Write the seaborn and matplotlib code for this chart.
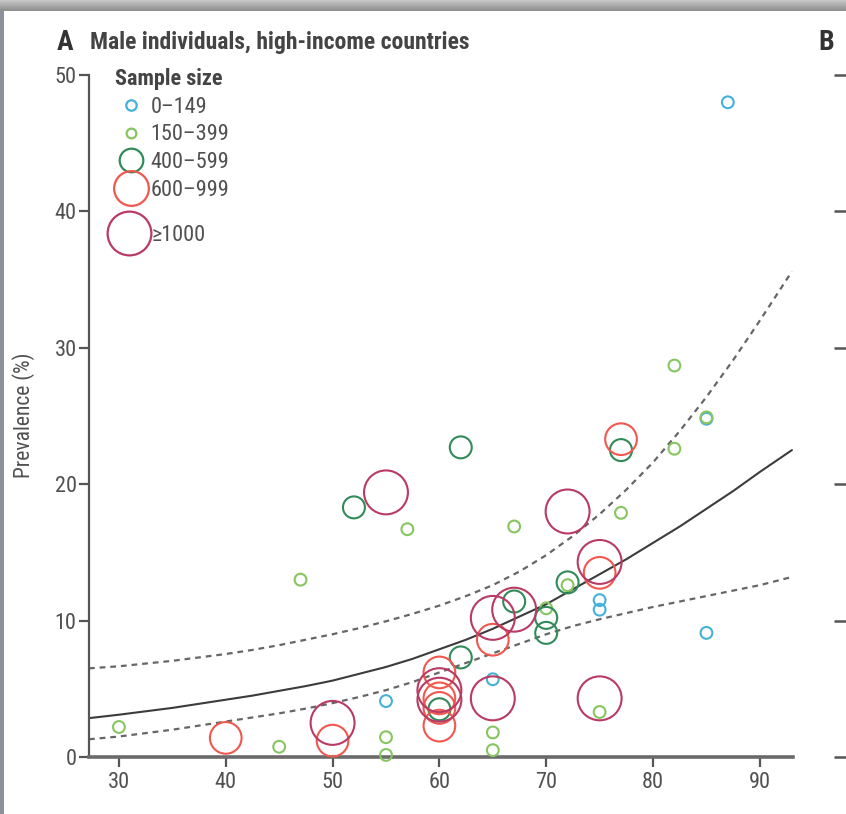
import numpy as np
import pandas as pd
import matplotlib
matplotlib.use("Agg")
import matplotlib.pyplot as plt
import seaborn as sns
from matplotlib import font_manager
from matplotlib.lines import Line2D

# ---------------- data ----------------
groups = ["0–149", "150–399", "400–599", "600–999", "≥1000"]

blue_x = [87, 85, 75, 75, 85, 65, 55]
blue_y = [48.0, 24.8, 11.5, 10.8, 9.1, 5.7, 4.1]

lgreen_x = [30, 47, 57, 67, 45, 55, 55, 65, 65, 82, 82, 85, 77, 75, 70, 72]
lgreen_y = [2.2, 13.0, 16.7, 16.9, 0.75, 1.45, 0.15, 1.8, 0.5, 28.7, 22.6, 24.9, 17.9, 3.3, 10.9, 12.6]

dgreen_x = [52, 62, 77, 72, 70, 70, 62, 60, 67]
dgreen_y = [18.3, 22.7, 22.5, 12.8, 10.2, 9.1, 7.3, 3.5, 11.4]

red_x = [40, 50, 60, 60, 60, 60, 65, 75, 77]
red_y = [1.4, 1.2, 6.2, 4.3, 3.6, 2.3, 8.6, 13.5, 23.3]

crim_x = [55, 50, 60, 60, 65, 65, 67, 72, 75, 75]
crim_y = [19.4, 2.5, 4.9, 4.2, 4.3, 10.2, 10.8, 18.0, 14.3, 4.3]

# fitted curve and 95% band
curve_x = [27.2, 30, 32.5, 35, 37.5, 40, 42.5, 45, 47.5, 50, 52.5, 55, 57.5, 60,
           62.5, 65, 67.5, 70, 72.5, 75, 77.5, 80, 82.5, 85, 87.5, 90, 93]
fit_y = [2.85, 3.1, 3.35, 3.6, 3.9, 4.2, 4.5, 4.85, 5.2, 5.6, 6.1, 6.6, 7.2, 7.9,
         8.6, 9.4, 10.3, 11.2, 12.3, 13.4, 14.5, 15.7, 16.9, 18.2, 19.5, 20.9, 22.5]
upper_y = [6.5, 6.65, 6.85, 7.05, 7.3, 7.55, 7.85, 8.2, 8.6, 9.0, 9.45, 9.95, 10.5, 11.1,
           11.8, 12.6, 13.6, 14.8, 16.2, 17.8, 19.6, 21.6, 23.9, 26.4, 29.1, 32.0, 35.6]
lower_y = [1.3, 1.5, 1.75, 2.0, 2.3, 2.6, 2.9, 3.2, 3.55, 3.95, 4.4, 4.9, 5.5, 6.2,
           6.9, 7.6, 8.3, 9.0, 9.6, 10.1, 10.55, 11.0, 11.4, 11.8, 12.2, 12.6, 13.2]

x_ticks = [30, 40, 50, 60, 70, 80, 90]
y_ticks = [0, 10, 20, 30, 40, 50]

# ---------------- styling ----------------
colors = {"0–149": "#45b1d8", "150–399": "#86c560", "400–599": "#318a58",
          "600–999": "#f2574f", "≥1000": "#b93a62"}
sizes = {"0–149": 72, "150–399": 72, "400–599": 250, "600–999": 520, "≥1000": 1000}
leg_ms = {"0–149": 7.5, "150–399": 7.0, "400–599": 17, "600–999": 25, "≥1000": 31.5}


def pick_font(cands):
    for c in cands:
        try:
            font_manager.findfont(font_manager.FontProperties(family=c), fallback_to_default=False)
            return c
        except Exception:
            pass
    return "DejaVu Sans"


sns.set_theme(style="white")
main_font = pick_font(["Liberation Sans Narrow", "Roboto Condensed", "Open Sans", "Lato"])
plt.rcParams["font.family"] = [main_font, "DejaVu Sans"]
TXT = "#505050"

frames = []
for g, xs, ys in zip(groups, [blue_x, lgreen_x, dgreen_x, red_x, crim_x],
                     [blue_y, lgreen_y, dgreen_y, red_y, crim_y]):
    frames.append(pd.DataFrame({"age": xs, "prev": ys, "group": g}))
df = pd.concat(frames, ignore_index=True)

W, H = 846, 814
fig = plt.figure(figsize=(W / 100, H / 100), dpi=100)
fig.patch.set_facecolor("white")

L, R, T, B = 89, 793, 75, 757
ax = fig.add_axes([L / W, 1 - B / H, (R - L) / W, (B - T) / H])

# curves
sns.lineplot(x=curve_x, y=fit_y, ax=ax, color="#3c3c3c", lw=1.5, zorder=2)
sns.lineplot(x=curve_x, y=upper_y, ax=ax, color="#666666", lw=1.6,
             linestyle=(0, (2.6, 2.2)), zorder=2)
sns.lineplot(x=curve_x, y=lower_y, ax=ax, color="#666666", lw=1.6,
             linestyle=(0, (2.6, 2.2)), zorder=2)

# points (hollow rings)
for g in groups:
    sub = df[df["group"] == g]
    sns.scatterplot(data=sub, x="age", y="prev", ax=ax, s=sizes[g],
                    facecolor="none", edgecolor=colors[g], linewidth=1.5,
                    clip_on=False, zorder=3, legend=False)

ax.set_xlim(27.2, 93.1)
ax.set_ylim(0, 50)
ax.set_xticks(x_ticks)
ax.set_yticks(y_ticks)
ax.set_xlabel("")
ax.set_ylabel("")
for s in ["top", "right"]:
    ax.spines[s].set_visible(False)
ax.spines["left"].set_color("#555555")
ax.spines["left"].set_linewidth(1.6)
ax.spines["bottom"].set_color("#6a6a6a")
ax.spines["bottom"].set_linewidth(2.6)
ax.tick_params(axis="both", direction="out", length=7, width=1.6, color="#555555",
               labelsize=16, labelcolor=TXT, left=True, bottom=True)
ax.tick_params(axis="x", pad=4)
ax.tick_params(axis="y", pad=2)
ax.grid(False)

# y label
fig.text(24 / W, 1 - 415 / H, "Prevalence (%)", rotation=90, ha="center", va="center",
         fontsize=15.5, color=TXT)

# title
fig.text(57 / W, 1 - 42 / H, "A", ha="left", va="center", fontsize=20,
         fontweight="bold", color="#333333")
fig.text(90 / W, 1 - 42 / H, "Male individuals, high-income countries", ha="left",
         va="center", fontsize=17, fontweight="bold", color="#444444")
fig.text(826 / W, 1 - 42 / H, "B", ha="center", va="center", fontsize=20,
         fontweight="bold", color="#333333")

# legend (two stacked legends to reproduce the wider gap before the largest key)
handles = [Line2D([], [], marker="o", linestyle="none", markerfacecolor="none",
                  markeredgecolor=colors[g], markeredgewidth=1.6, markersize=leg_ms[g])
           for g in groups]
leg1 = ax.legend(handles[:4], groups[:4], title="Sample size", loc="upper left",
                 bbox_to_anchor=((104 - L) / (R - L), 1 - (57 - T) / (B - T)),
                 frameon=False, fontsize=16, labelspacing=0.3, handletextpad=0.15,
                 handlelength=1.45, borderpad=0, labelcolor=TXT, alignment="left",
                 title_fontproperties={"weight": "bold", "size": 16})
leg1.get_title().set_color("#444444")
ax.add_artist(leg1)
leg2 = ax.legend(handles[4:], groups[4:], loc="upper left",
                 bbox_to_anchor=((102 - L) / (R - L), 1 - (214 - T) / (B - T)),
                 frameon=False, fontsize=16, handletextpad=0.26, handlelength=1.45,
                 borderpad=0, labelcolor=TXT)

# neighbouring panel B (only its tick marks are visible at the right edge)
axb = fig.add_axes([847 / W, 1 - B / H, 0.2, (B - T) / H])
axb.set_ylim(0, 50)
axb.set_yticks(y_ticks)
axb.set_yticklabels([])
axb.set_xticks([])
for s in axb.spines.values():
    s.set_visible(False)
axb.tick_params(axis="y", direction="out", length=9.5, width=1.8, color="#555555", left=True)
axb.patch.set_alpha(0)

# screenshot frame: grey band on top and left
axt = fig.add_axes([0, 1 - 11 / H, 1, 11 / H])
grad = np.linspace(0, 1, 64).reshape(-1, 1)
axt.imshow(grad, aspect="auto", cmap=matplotlib.colors.LinearSegmentedColormap.from_list(
    "g", ["#c9c9c9", "#a9a9a9", "#8d8d8d"]), extent=[0, 1, 0, 1])
axt.axis("off")
axl = fig.add_axes([0, 0, 4 / W, 1 - 11 / H])
axl.set_facecolor("#8c929a")
axl.set_xticks([]); axl.set_yticks([])
for s in axl.spines.values():
    s.set_visible(False)

fig.savefig("out.png", dpi=100, facecolor="white")
